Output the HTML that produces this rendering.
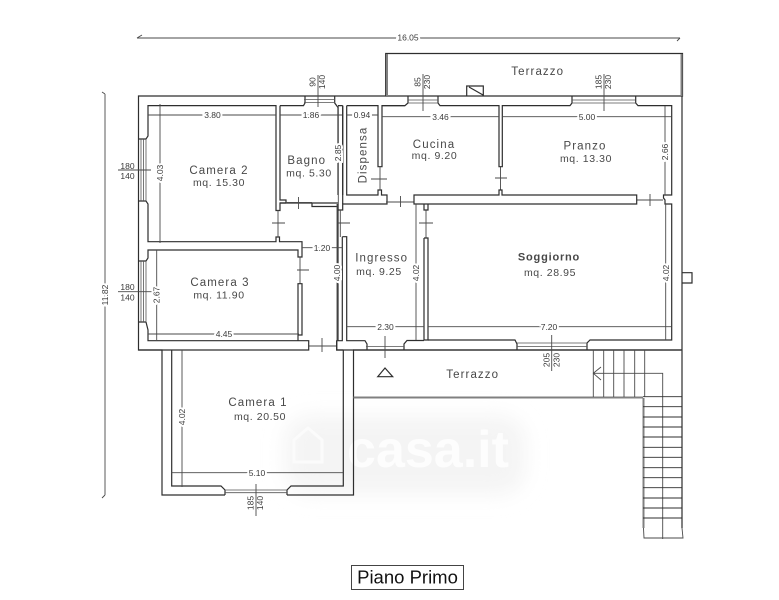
<!DOCTYPE html>
<html><head><meta charset="utf-8"><style>
html,body{margin:0;padding:0;background:#fff;width:779px;height:600px;overflow:hidden}
svg{display:block}
.w{fill:none;stroke:#2e2e2e;stroke-width:1.2}
.t{fill:none;stroke:#555;stroke-width:.8}
.d{fill:none;stroke:#4a4a4a;stroke-width:.9}
.g{fill:none;stroke:#808080;stroke-width:2}
text{font-family:"Liberation Sans",sans-serif;text-anchor:middle;fill:#484848}
.r{font-size:11.5px;letter-spacing:1.1px}
.m{font-size:10.5px;letter-spacing:.6px}
.n{font-size:8.5px;fill:#3a3a3a}
</style></head><body>
<svg width="779" height="600" viewBox="0 0 779 600" xmlns="http://www.w3.org/2000/svg">
<defs><filter id="b" x="-20%" y="-40%" width="140%" height="180%"><feGaussianBlur stdDeviation="10"/></filter>
<filter id="s"><feGaussianBlur stdDeviation=".3"/></filter></defs>
<rect x="285" y="416" width="240" height="78" rx="25" fill="#f4f4f4" filter="url(#b)"/>
<text x="428" y="467" style="font-size:52px;font-weight:bold;fill:#fdfdfd">casa.it</text>
<path d="M294 462v-22l14-12 14 12v22z" fill="none" stroke="#fbfbfb" stroke-width="3"/>
<g filter="url(#s)">
<!-- outer walls -->
<path class="w" d="M682 96H138.500V350H162V495H225M287 495H353.500V350M385.700 96V53.500H682.500V96H682V350H353"/>
<path class="g" d="M387 54V96M681.500 54V96"/>
<path class="g" d="M353.500 397.500H643M643.500 398V528M682 350V528"/>
<!-- camera 2 -->
<path class="w" d="M138.500 139H146L148 136V105.600H276V210.500H280V203L286 203M280 105.600H303.500L305 103V96M334.700 96V103L338 107.500V195M280 105.600V200H286V203M276 210.500V202"/>
<path class="w" d="M138.500 201H146L148 204V241.700H276V237H279.500V241.700H302V257H298V250H148V258L146 261H138.500"/>
<path class="t" d="M141 139V201M143.500 139V201M146 139V201"/>
<path class="t" d="M304 99.500H335M304 102.500H335"/>
<!-- bagno door & wall to dispensa -->
<path class="w" d="M280 203H312V206.500H338.500M312 203H338M342.700 105.600V195M338 105.600H342.700M346.700 105.600H378V166.700H382V105.600H405L408 103V96M346.700 105.600V195H378V190H381.500V195H387V204H342.700V210H338V204"/>
<path class="w" d="M342.700 204V105.600M338 204V340.700M342.300 236.700H346.700V340.700H365L367 344V350M342.300 236.700V340.700H336.700V350H343.300"/>
<!-- door ticks -->
<path class="d" d="M272 223H285M278 210V237M286 202.500H312M298.500 197V209M338 223H350M340.300 210V237M386 202H414M400.500 196V207M636.700 200H663M650 194V206M309 346H336.700M322 338V352M297 270H309M300 257V284M371 179H387M380 167V190M495 178H507M500.500 167V190M419 223H433M426 210V238"/>
<!-- cucina / pranzo -->
<path class="w" d="M382 105.600H405M438 96V103L440 105.600H499V166.700H502.300V105.600H570L572 103V96M635.700 96V103L638 105.600H671.700V195H663.500V198L665 200V204H671.700V340H590L587 343V350"/>
<path class="t" d="M408 100H438M408 103H438M572 100H635.700M572 103H635.700"/>
<path class="w" d="M414 195H499V190H502V195H636.700V204H414ZM424 204V210H428V204M424 238H428V340H424V238"/>
<path class="w" d="M428 340H515L517 344V350M404 350V344L407 340.500H424M353 350H682"/>
<path class="t" d="M517 343H587M517 346.500H587M366 346.500H404"/>
<path class="w" d="M298 283.700H302V335H298ZM298 335V340.700M146 322L148 330V340.700H308.700V350H138.500M138.500 322H146M343.300 350V486H291L287 490V495M171.700 350V486H221L225 490V495"/>
<path class="t" d="M225 490H287M225 492.700H287M141 261V322M143.500 261V322M146 261V322"/>
<path class="w" d="M336.700 340.700V350H353.500"/>
<!-- dims -->
<path class="d" d="M137 38H680M137 38l5-3M680 38l-3 3M105 94V495M105 94l-3-2M105 495l-3 3"/>
<path class="d" d="M148 115H276M280 115H342M346.700 115H378M382 116.700H499M502.300 116.700H671.700M160 104V243M338.300 106V204M665 106V195M302 247.700H343M337 204V340M156.700 250V341M148 334H299M182 350V487M171 472.700H343M346.700 326.700H424M428 326.700H671.700M416 204V340M665.700 204V340"/>
<path class="d" d="M318 75V107M423 74V111M604 74V111M118 170H151M118 291.700H153M256 484V516M551.700 335V371M385 336V358"/>
<g style="paint-order:stroke">
<text class="n" x="212.500" y="118" stroke="#fff" stroke-width="4">3.80</text>
<text class="n" x="311" y="118" stroke="#fff" stroke-width="4">1.86</text>
<text class="n" x="362" y="118" stroke="#fff" stroke-width="4">0.94</text>
<text class="n" x="440.500" y="120" stroke="#fff" stroke-width="4">3.46</text>
<text class="n" x="587" y="120" stroke="#fff" stroke-width="4">5.00</text>
<text class="n" x="322" y="251" stroke="#fff" stroke-width="4">1.20</text>
<text class="n" x="224" y="337" stroke="#fff" stroke-width="4">4.45</text>
<text class="n" x="257" y="476" stroke="#fff" stroke-width="4">5.10</text>
<text class="n" x="385.500" y="330" stroke="#fff" stroke-width="4">2.30</text>
<text class="n" x="549" y="330" stroke="#fff" stroke-width="4">7.20</text>
<text class="n" x="408" y="40.500" stroke="#fff" stroke-width="4">16.05</text>
<text class="n" x="0" y="0" transform="translate(108,295) rotate(-90)" stroke="#fff" stroke-width="4">11.82</text>
<text class="n" x="0" y="0" transform="translate(163,173) rotate(-90)" stroke="#fff" stroke-width="4">4.03</text>
<text class="n" x="0" y="0" transform="translate(341,153) rotate(-90)" stroke="#fff" stroke-width="4">2.85</text>
<text class="n" x="0" y="0" transform="translate(668,152) rotate(-90)" stroke="#fff" stroke-width="4">2.66</text>
<text class="n" x="0" y="0" transform="translate(340,273) rotate(-90)" stroke="#fff" stroke-width="4">4.00</text>
<text class="n" x="0" y="0" transform="translate(159.700,295) rotate(-90)" stroke="#fff" stroke-width="4">2.67</text>
<text class="n" x="0" y="0" transform="translate(185,417) rotate(-90)" stroke="#fff" stroke-width="4">4.02</text>
<text class="n" x="0" y="0" transform="translate(419,273) rotate(-90)" stroke="#fff" stroke-width="4">4.02</text>
<text class="n" x="0" y="0" transform="translate(669,273) rotate(-90)" stroke="#fff" stroke-width="4">4.02</text>
</g>
<text class="n" x="127.500" y="169">180</text><text class="n" x="127.500" y="179">140</text>
<text class="n" x="127.500" y="290">180</text><text class="n" x="127.500" y="300.500">140</text>
<text class="n" transform="translate(315.500,82) rotate(-90)">90</text><text class="n" transform="translate(325,82) rotate(-90)">140</text>
<text class="n" transform="translate(420.500,82) rotate(-90)">85</text><text class="n" transform="translate(430,82) rotate(-90)">230</text>
<text class="n" transform="translate(601.500,82) rotate(-90)">185</text><text class="n" transform="translate(611,82) rotate(-90)">230</text>
<text class="n" transform="translate(253.500,503) rotate(-90)">185</text><text class="n" transform="translate(263,503) rotate(-90)">140</text>
<text class="n" transform="translate(549.500,360) rotate(-90)">205</text><text class="n" transform="translate(559.500,360) rotate(-90)">230</text>
<!-- small features -->
<path class="w" d="M466.700 96V86H483.300V96M469 87L483 95M682 272.700H692V283H682M377.700 376.700L385 368L392.700 376.700Z"/>
<!-- stairs -->
<path class="d" d="M593.300 350V397M603.700 350V397M613.700 350V397M624 350V397M634.700 350V397M644.700 350V397M593.300 373.300H662.700V539M601 367L593.300 373.300L601 380"/>
<path class="w" style="stroke-width:.9" d="M643 396.700H682M643 406.700H682M643 417H682M643 427H682M643 437H682M643 447.300H682M643 457.300H682M643 467.700H682M643 477.700H682M643 487.700H682M643 498H682M643 508H682M643 518H682"/>
<path class="d" d="M643.500 528L644 538H683L682 528"/>
</g>
<!-- labels -->
<text class="r" x="219" y="174">Camera 2</text><text class="m" x="219" y="186">mq. 15.30</text>
<text class="r" x="306.700" y="164">Bagno</text><text class="m" x="309" y="176.500">mq. 5.30</text>
<text class="r" transform="translate(366.500,155) rotate(-90)">Dispensa</text>
<text class="r" x="434" y="148">Cucina</text><text class="m" x="434.500" y="159">mq. 9.20</text>
<text class="r" x="585" y="149.500">Pranzo</text><text class="m" x="586" y="162">mq. 13.30</text>
<text class="r" x="537.700" y="75">Terrazzo</text>
<text class="r" x="381.700" y="261.500">Ingresso</text><text class="m" x="379" y="275">mq. 9.25</text>
<text class="r" x="549" y="260.500" style="font-weight:bold;font-size:11px;letter-spacing:.8px">Soggiorno</text><text class="m" x="550" y="276">mq. 28.95</text>
<text class="r" x="220" y="286">Camera 3</text><text class="m" x="219" y="298.500">mq. 11.90</text>
<text class="r" x="258" y="406">Camera 1</text><text class="m" x="260" y="420">mq. 20.50</text>
<text class="r" x="472.700" y="378">Terrazzo</text>
<rect x="351.500" y="565.500" width="112" height="24" fill="#fff" stroke="#444" stroke-width="1"/>
<text x="407.500" y="583.500" style="font-size:18.500px;fill:#111">Piano Primo</text>
</svg>
</body></html>
